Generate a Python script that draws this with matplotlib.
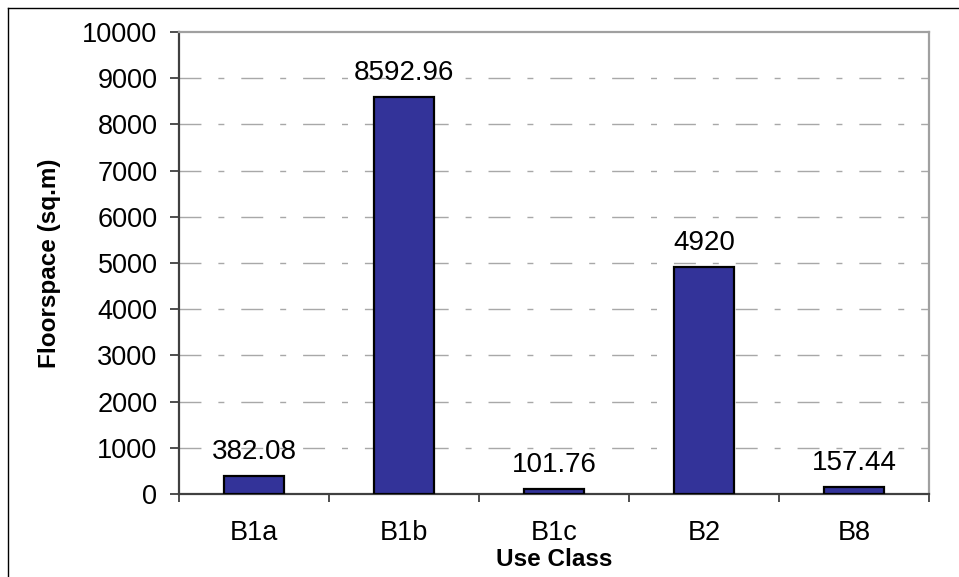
import numpy as np
import matplotlib
matplotlib.use("Agg")
import matplotlib.pyplot as plt
from matplotlib.lines import Line2D

# chart data
use_class = ["B1a", "B1b", "B1c", "B2", "B8"]
floorspace = [382.08, 8592.96, 101.76, 4920, 157.44]
value_labels = ["382.08", "8592.96", "101.76", "4920", "157.44"]
y_ticks = [0, 1000, 2000, 3000, 4000, 5000, 6000, 7000, 8000, 9000, 10000]

plt.rcParams['font.family'] = ['Liberation Sans', 'DejaVu Sans']

fig = plt.figure(figsize=(9.59, 5.77), dpi=100)
ax = fig.add_axes([179/959, 1 - 494/577, 750/959, 462/577])

x = np.arange(len(use_class))
bars = ax.bar(x, floorspace, width=0.405, color="#333399",
              edgecolor="black", linewidth=1.6, zorder=3)

# value labels above each bar
for b, lab in zip(bars, value_labels):
    ax.annotate(lab, (b.get_x() + b.get_width()/2, b.get_height()),
                xytext=(0, 8), textcoords="offset points",
                ha="center", va="bottom", fontsize=20, zorder=4)

ax.set_xlim(-0.5, len(use_class) - 0.5)
ax.set_ylim(0, 10000)
ax.set_yticks(y_ticks)
ax.set_yticklabels([str(v) for v in y_ticks], fontsize=19.5)
ax.set_xticks(x)
ax.set_xticklabels(use_class, fontsize=19.5)
ax.set_xticks(np.arange(-0.5, len(use_class)), minor=True)

ax.tick_params(axis="x", which="major", length=0, pad=19)
ax.tick_params(axis="x", which="minor", length=6, width=1.3, color="#404040", direction="out")
ax.tick_params(axis="y", length=6.5, width=1.3, color="#404040", direction="out", pad=9)

# dashed grid, skipping the top line
for v in y_ticks[1:-1]:
    ax.axhline(v, color="#a8a8a8", linewidth=1.0,
               linestyle=(0, (15.8, 12.2, 4.3, 12.2)), zorder=1)

for s in ["left", "bottom"]:
    ax.spines[s].set_color("#404040")
    ax.spines[s].set_linewidth(1.6)
for s in ["top", "right"]:
    ax.spines[s].set_color("#a0a0a0")
    ax.spines[s].set_linewidth(1.6)

ax.set_ylabel("Floorspace (sq.m)", fontsize=17.5, fontweight="bold", labelpad=15)
ax.set_xlabel("Use Class", fontsize=17.5, fontweight="bold", labelpad=1)

# outer frame (only left and top edges visible in the crop)
fig.add_artist(Line2D([7.5/959, 7.5/959], [0, 1 - 7.5/577], color="black", linewidth=1.0))
fig.add_artist(Line2D([7.5/959, 1], [1 - 7.5/577, 1 - 7.5/577], color="black", linewidth=1.0))

fig.savefig("out.png", dpi=100)
